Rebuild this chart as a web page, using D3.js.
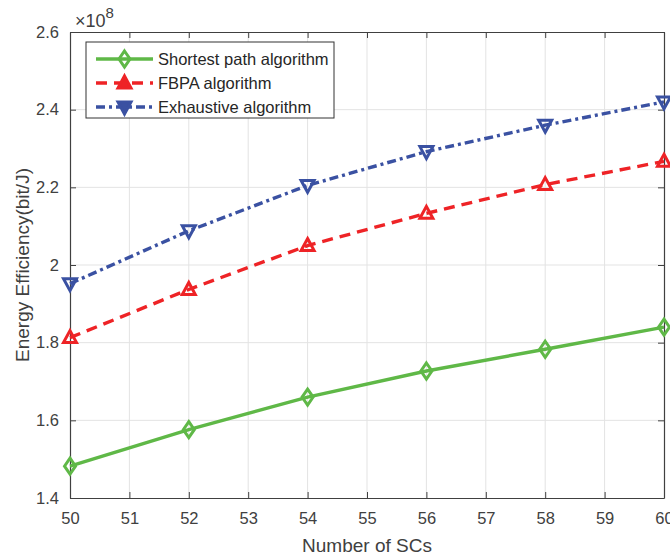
<!DOCTYPE html>
<html><head><meta charset="utf-8">
<script src="https://cdn.jsdelivr.net/npm/d3@7"></script>
<style>body{margin:0;background:#fff}svg{display:block}text{font-family:"Liberation Sans",Arial,sans-serif}</style>
</head><body><svg id="c" width="670" height="557"></svg>
<script>
const xValues = [50, 52, 54, 56, 58, 60];
const shortestPath = [1.482, 1.576, 1.660, 1.727, 1.783, 1.840];
const fbpa = [1.813, 1.937, 2.050, 2.133, 2.207, 2.267];
const exhaustive = [1.952, 2.088, 2.205, 2.292, 2.360, 2.420];
const xTicks = [50, 51, 52, 53, 54, 55, 56, 57, 58, 59, 60];
const yTicks = [1.4, 1.6, 1.8, 2.0, 2.2, 2.4, 2.6];
const seriesNames = ["Shortest path algorithm", "FBPA algorithm", "Exhaustive algorithm"];

const svg = d3.select("#c");
const L = 70, R = 664, T = 32, B = 498;
const x = d3.scaleLinear().domain([50, 60]).range([L, R]);
const y = d3.scaleLinear().domain([1.4, 2.6]).range([B, T]);
const axisColor = "#404040";

// grid
svg.append("g").selectAll("line").data(xTicks.slice(1, -1)).join("line")
  .attr("x1", d => x(d)).attr("x2", d => x(d)).attr("y1", T).attr("y2", B)
  .attr("stroke", "#e3e3e3").attr("stroke-width", 1);
svg.append("g").selectAll("line").data(yTicks.slice(1, -1)).join("line")
  .attr("y1", d => y(d)).attr("y2", d => y(d)).attr("x1", L).attr("x2", R)
  .attr("stroke", "#e3e3e3").attr("stroke-width", 1);

// axes
const fmt = d => d3.format("")(+d.toFixed(1));
const ax = (g) => { g.selectAll("path").attr("stroke", axisColor); g.selectAll("line").attr("stroke", axisColor); g.selectAll("text").attr("fill", "#404040").style("font-size", "16.5px").attr("font-family", "Liberation Sans, Arial, sans-serif"); };
svg.append("g").attr("transform", `translate(0,${B})`)
  .call(d3.axisBottom(x).tickValues(xTicks).tickSizeInner(-6).tickSizeOuter(0).tickPadding(14).tickFormat(d3.format("d")))
  .call(ax);
svg.append("g").attr("transform", `translate(0,${T})`)
  .call(d3.axisTop(x).tickValues(xTicks).tickSizeInner(-6).tickSizeOuter(0).tickFormat(""))
  .call(ax);
svg.append("g").attr("transform", `translate(${L},0)`)
  .call(d3.axisLeft(y).tickValues(yTicks).tickSizeInner(-6).tickSizeOuter(0).tickPadding(11).tickFormat(fmt))
  .call(ax);
svg.append("g").attr("transform", `translate(${R},0)`)
  .call(d3.axisRight(y).tickValues(yTicks).tickSizeInner(-6).tickSizeOuter(0).tickFormat(""))
  .call(ax);
svg.selectAll(".domain").attr("stroke-width", 1.2);

// exponent
const ex = svg.append("text").attr("x", L + 5).attr("y", T - 5).attr("fill", "#404040").style("font-size", "18px");
ex.append("tspan").text("\u00d710");
ex.append("tspan").attr("dy", -9).style("font-size", "15px").text("8");

// labels
svg.append("text").attr("x", (L + R) / 2).attr("y", 552).attr("text-anchor", "middle")
  .attr("fill", "#404040").style("font-size", "19px").text("Number of SCs");
svg.append("text").attr("transform", `translate(29,${(T + B) / 2}) rotate(-90)`).attr("text-anchor", "middle")
  .attr("fill", "#404040").style("font-size", "19px").text("Energy Efficiency(bit/J)");

const series = [
  {name: seriesNames[0], vals: shortestPath, color: "#5fb847", dash: null, sym: "diamond"},
  {name: seriesNames[1], vals: fbpa, color: "#ee2326", dash: "11,7", sym: "up"},
  {name: seriesNames[2], vals: exhaustive, color: "#3a51a2", dash: "9,4,3,4", sym: "down"}
];
function marker(g, sym, cx, cy, color, fill) {
  let p;
  if (sym === "diamond") p = `M${cx},${cy-8}L${cx+5.5},${cy}L${cx},${cy+8}L${cx-5.5},${cy}Z`;
  else if (sym === "up") p = `M${cx},${cy-7}L${cx+6.5},${cy+5}L${cx-6.5},${cy+5}Z`;
  else p = `M${cx},${cy+7}L${cx+6.5},${cy-5}L${cx-6.5},${cy-5}Z`;
  g.append("path").attr("d", p).attr("fill", fill).attr("stroke", color).attr("stroke-width", 3).attr("stroke-linejoin", "miter");
}
const line = d3.line().x((d, i) => x(xValues[i])).y(d => y(d));
series.forEach(s => {
  svg.append("path").datum(s.vals).attr("d", line).attr("fill", "none")
    .attr("stroke", s.color).attr("stroke-width", 3.4).attr("stroke-dasharray", s.dash);
  const g = svg.append("g");
  s.vals.forEach((v, i) => marker(g, s.sym, x(xValues[i]), y(v), s.color, "none"));
});

// legend
const lg = svg.append("g");
lg.append("rect").attr("x", 86).attr("y", 42).attr("width", 248).attr("height", 76)
  .attr("fill", "#fff").attr("stroke", "#333").attr("stroke-width", 1);
series.forEach((s, i) => {
  const cy = 59 + i * 24;
  lg.append("line").attr("x1", 96).attr("x2", 153).attr("y1", cy).attr("y2", cy)
    .attr("stroke", s.color).attr("stroke-width", 3.4).attr("stroke-dasharray", s.dash);
  marker(lg, s.sym, 124.5, cy, s.color, s.sym === "diamond" ? "none" : s.color);
  lg.append("text").attr("x", 158).attr("y", cy + 6).attr("fill", "#262626").style("font-size", "16.5px").text(s.name);
});
</script></body></html>
